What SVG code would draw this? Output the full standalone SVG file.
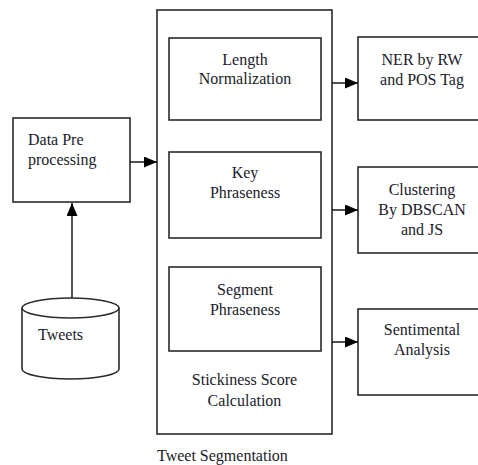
<svg xmlns="http://www.w3.org/2000/svg" width="478" height="465" viewBox="0 0 478 465">
  <style>
    .box { fill: #fff; stroke: #2a2a2a; stroke-width: 1.6; }
    .wire { fill: none; stroke: #1a1a1a; stroke-width: 1.5; }
    text { font-family: "Liberation Serif", "Times New Roman", serif; font-size: 16px; fill: #1a1a2a; }
    .c { text-anchor: middle; }
  </style>
  <defs>
    <marker id="arrowBig" viewBox="0 0 10 10" refX="10" refY="5" markerWidth="13" markerHeight="11" markerUnits="userSpaceOnUse" orient="auto" preserveAspectRatio="none">
      <path d="M0,0 L10,5 L0,10 z" fill="#000"/>
    </marker>
  </defs>

  <rect width="478" height="465" fill="#fff"/>

  <!-- Tweet segmentation container -->
  <g id="tweet-segmentation">
    <rect class="box" x="157" y="10" width="175" height="424"/>
    <text class="c" x="244.5" y="385">Stickiness Score</text>
    <text class="c" x="244.5" y="406">Calculation</text>
    <text x="157" y="461">Tweet Segmentation</text>
  </g>

  <g id="length-normalization">
    <rect class="box" x="169" y="38" width="152" height="82"/>
    <text class="c" x="245" y="65">Length</text>
    <text class="c" x="245" y="84">Normalization</text>
  </g>

  <g id="key-phraseness">
    <rect class="box" x="169" y="152" width="152" height="86"/>
    <text class="c" x="245" y="178">Key</text>
    <text class="c" x="245" y="198">Phraseness</text>
  </g>

  <g id="segment-phraseness">
    <rect class="box" x="169" y="267" width="152" height="84"/>
    <text class="c" x="245" y="295">Segment</text>
    <text class="c" x="245" y="315">Phraseness</text>
  </g>

  <g id="data-preprocessing">
    <rect class="box" x="13" y="118" width="117" height="84"/>
    <text x="28" y="145">Data Pre</text>
    <text x="28" y="165">processing</text>
  </g>

  <g id="tweets">
    <path class="box" d="M22,308 L22,369 A48.5,10 0 0 0 119,369 L119,308"/>
    <ellipse class="box" cx="70.5" cy="308" rx="48.5" ry="10"/>
    <text x="38" y="340">Tweets</text>
  </g>

  <g id="ner">
    <rect class="box" x="358" y="37" width="130" height="83"/>
    <text class="c" x="422" y="65">NER by RW</text>
    <text class="c" x="422" y="85">and POS Tag</text>
  </g>

  <g id="clustering">
    <rect class="box" x="358" y="167" width="130" height="86"/>
    <text class="c" x="422" y="195">Clustering</text>
    <text class="c" x="422" y="215">By DBSCAN</text>
    <text class="c" x="422" y="235">and JS</text>
  </g>

  <g id="sentimental">
    <rect class="box" x="358" y="309" width="130" height="86"/>
    <text class="c" x="422" y="335">Sentimental</text>
    <text class="c" x="422" y="355">Analysis</text>
  </g>

  <!-- Connectors -->
  <g id="connectors">
    <line class="wire" x1="72" y1="298" x2="72" y2="203" marker-end="url(#arrowBig)"/>
    <line class="wire" x1="130" y1="162" x2="157" y2="162" marker-end="url(#arrowBig)"/>
    <line class="wire" x1="332" y1="83" x2="358" y2="83" marker-end="url(#arrowBig)"/>
    <line class="wire" x1="332" y1="210" x2="358" y2="210" marker-end="url(#arrowBig)"/>
    <line class="wire" x1="332" y1="342" x2="358" y2="342" marker-end="url(#arrowBig)"/>
  </g>
</svg>
